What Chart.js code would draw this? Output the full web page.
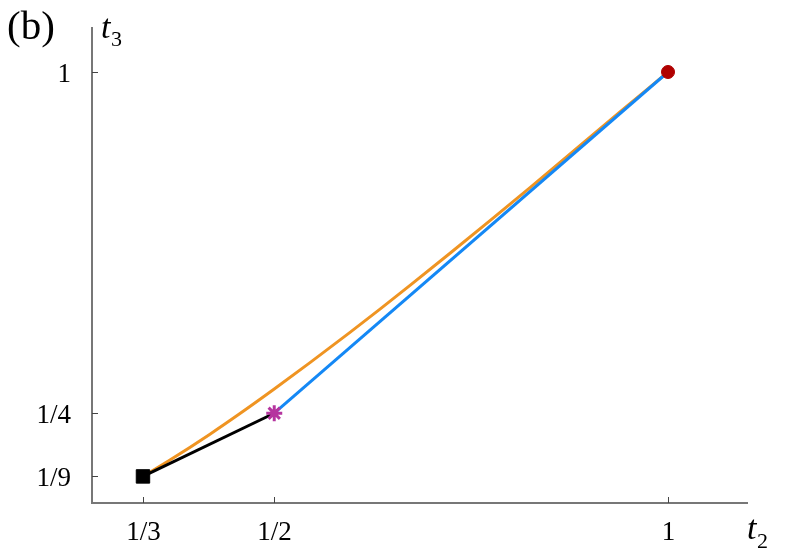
<!DOCTYPE html>
<html>
<head>
<meta charset="utf-8">
<script src="https://cdn.jsdelivr.net/npm/chart.js@4"></script>
<style>
  html, body { margin: 0; padding: 0; background: #fff; }
  #wrap { width: 797px; height: 558px; }
</style>
</head>
<body>
<div id="wrap"><canvas id="c" width="797" height="558"></canvas></div>
<script>
// --- data ---
const t2Orange = [0.3333, 0.3676, 0.4184, 0.4565, 0.5, 0.5454, 0.5962, 0.6343, 0.6724, 0.7232, 0.7740, 0.8248, 0.8629, 0.9390, 1];
const t3Orange = [0.1111, 0.1471, 0.2040, 0.2493, 0.3032, 0.3613, 0.4278, 0.4789, 0.5311, 0.6017, 0.6733, 0.7459, 0.8011, 0.9122, 1];
const t2Black = [1/3, 1/2];
const t3Black = [1/9, 1/4];
const t2Blue = [1/2, 1];
const t3Blue = [1/4, 1];
const squarePt = [1/3, 1/9];
const starPt = [1/2, 1/4];
const circlePt = [1, 1];

const xTicks = [1/3, 1/2, 1];
const xTickLabels = ['1/3', '1/2', '1'];
const yTicks = [1/9, 1/4, 1];
const yTickLabels = ['1/9', '1/4', '1'];

const pts = (xs, ys) => xs.map((x, i) => ({ x: x, y: ys[i] }));

// inward ticks, labels and axis names
const axisDeco = {
  id: 'axisDeco',
  afterDraw(chart) {
    const ctx = chart.ctx;
    const xs = chart.scales.x, ys = chart.scales.y;
    const area = chart.chartArea;
    ctx.save();
    ctx.strokeStyle = '#444';
    ctx.lineWidth = 1;
    ctx.fillStyle = '#000';
    ctx.font = '27px "Liberation Serif", serif';
    xTicks.forEach((v, i) => {
      const px = Math.round(xs.getPixelForValue(v)) + 0.5;
      ctx.beginPath();
      ctx.moveTo(px, area.bottom);
      ctx.lineTo(px, area.bottom - 6);
      ctx.stroke();
      ctx.textAlign = 'center';
      ctx.textBaseline = 'alphabetic';
      ctx.fillText(xTickLabels[i], px, 540);
    });
    yTicks.forEach((v, i) => {
      const py = Math.round(ys.getPixelForValue(v)) + 0.5;
      ctx.beginPath();
      ctx.moveTo(area.left, py);
      ctx.lineTo(area.left + 6, py);
      ctx.stroke();
      ctx.textAlign = 'right';
      ctx.textBaseline = 'alphabetic';
      ctx.fillText(yTickLabels[i], 71, py + 9);
    });
    // panel label
    ctx.textAlign = 'left';
    ctx.font = '41px "Liberation Serif", serif';
    ctx.fillText('(b)', 7, 39);
    // axis names
    ctx.font = 'italic 34px "Liberation Serif", serif';
    ctx.fillText('t', 101, 38);
    ctx.fillText('t', 747, 539);
    ctx.font = '22px "Liberation Serif", serif';
    ctx.fillText('3', 111, 46);
    ctx.fillText('2', 757, 548);
    ctx.restore();
  }
};

new Chart(document.getElementById('c'), {
  type: 'scatter',
  data: {
    datasets: [
      { data: pts(t2Orange, t3Orange), showLine: true, borderColor: '#ef9422', borderWidth: 3,
        pointRadius: 0, cubicInterpolationMode: 'monotone', order: 5 },
      { data: pts(t2Black, t3Black), showLine: true, borderColor: '#000', borderWidth: 3,
        pointRadius: 0, order: 4 },
      { data: pts(t2Blue, t3Blue), showLine: true, borderColor: '#1488f5', borderWidth: 3,
        pointRadius: 0, order: 3 },
      { data: [{ x: squarePt[0], y: squarePt[1] }], pointStyle: 'rect', pointRadius: 9.5,
        backgroundColor: '#000', borderColor: '#000', borderWidth: 1, order: 2 },
      { data: [{ x: starPt[0], y: starPt[1] }], pointStyle: 'star', pointRadius: 8,
        borderColor: '#b5349f', backgroundColor: '#b5349f', borderWidth: 3, order: 1 },
      { data: [{ x: circlePt[0], y: circlePt[1] }], pointStyle: 'circle', pointRadius: 6.5,
        backgroundColor: '#b00000', borderColor: '#b00000', borderWidth: 1, order: 0 }
    ]
  },
  options: {
    responsive: false,
    animation: false,
    events: [],
    layout: { padding: { left: 92, right: 50, top: 28, bottom: 55 } },
    plugins: { legend: { display: false }, tooltip: { enabled: false } },
    scales: {
      x: {
        type: 'linear', min: 0.2686, max: 1.1003,
        grid: { display: false, drawTicks: false },
        border: { display: true, color: '#777', width: 2 },
        ticks: { display: false }
      },
      y: {
        type: 'linear', min: 0.0527, max: 1.0967,
        grid: { display: false, drawTicks: false },
        border: { display: true, color: '#777', width: 2 },
        ticks: { display: false }
      }
    }
  },
  plugins: [axisDeco]
});
</script>
</body>
</html>
